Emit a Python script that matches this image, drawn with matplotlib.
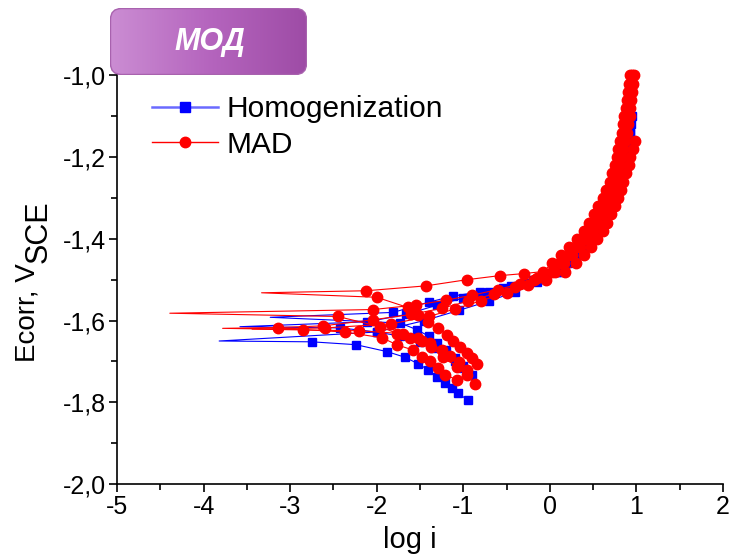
import numpy as np
import matplotlib.pyplot as plt
from matplotlib.lines import Line2D
from matplotlib.patches import FancyBboxPatch
from matplotlib.colors import LinearSegmentedColormap

plt.rcParams['font.family'] = ['Liberation Sans', 'DejaVu Sans']

# shared potential grid for the dense anodic part (V)
E_DENSE = [-1.48, -1.46, -1.44, -1.42, -1.40, -1.38, -1.36, -1.34, -1.32, -1.30,
           -1.28, -1.26, -1.24, -1.22, -1.20, -1.18, -1.16, -1.14, -1.12, -1.10,
           -1.08, -1.06, -1.04, -1.02, -1.00]

# ---- Homogenization (blue squares) ----
# each curve: cathodic branch, corrosion tip, anodic branch
h1_cat_x = [-0.95, -1.06, -1.13, -1.21, -1.30, -1.41, -1.52, -1.67, -1.88, -2.24, -2.75]
h1_cat_e = [-1.795, -1.777, -1.765, -1.752, -1.738, -1.720, -1.706, -1.690, -1.676, -1.659, -1.652]
h1_tip = (-3.82, -1.650)
h1_an_x = [-2.00, -1.45, -1.05, -0.70, -0.40, -0.15] + [0.08, 0.19, 0.29, 0.38, 0.46, 0.53, 0.59, 0.64, 0.69, 0.73, 0.77, 0.80, 0.83, 0.85, 0.87, 0.89, 0.905, 0.92]
h1_an_e = [-1.628, -1.600, -1.575, -1.552, -1.530, -1.505] + E_DENSE[:18]

h2_cat_x = [-0.90, -1.00, -1.10, -1.20, -1.35, -1.50, -1.73, -2.00, -2.42]
h2_cat_e = [-1.733, -1.715, -1.700, -1.685, -1.668, -1.652, -1.638, -1.628, -1.618]
h2_tip = (-3.58, -1.615)
h2_an_x = [-2.11, -1.66, -1.30, -1.00, -0.70, -0.45, -0.20] + [0.04, 0.15, 0.25, 0.34, 0.42, 0.49, 0.55, 0.61, 0.66, 0.70, 0.74, 0.77, 0.80, 0.83, 0.85, 0.87, 0.89, 0.91, 0.92, 0.93]
h2_an_e = [-1.603, -1.585, -1.562, -1.545, -1.530, -1.515, -1.500] + E_DENSE[:20]

h3_cat_x = [-1.00, -1.10, -1.20, -1.30, -1.40, -1.54, -1.73]
h3_cat_e = [-1.712, -1.692, -1.672, -1.655, -1.638, -1.622, -1.606]
h3_tip = (-3.23, -1.592)
h3_an_x = [-1.81, -1.40, -1.12, -0.81, -0.54, -0.30, -0.10] + [0.10, 0.21, 0.31, 0.40, 0.48, 0.55, 0.61, 0.66, 0.71, 0.75, 0.78, 0.81, 0.84, 0.86, 0.88, 0.90, 0.92, 0.93, 0.94, 0.95]
h3_an_e = [-1.580, -1.555, -1.540, -1.530, -1.520, -1.508, -1.494] + E_DENSE[:20]

# ---- MAD (red circles) ----
m1_cat_x = [-0.87, -0.96, -1.07, -1.24, -1.37, -1.48, -1.62, -1.76, -1.96, -2.45]
m1_cat_e = [-1.755, -1.733, -1.713, -1.689, -1.664, -1.650, -1.642, -1.632, -1.615, -1.590]
m1_tip = (-4.39, -1.582)
m1_an_x = [-2.04, -1.55, -1.20, -0.90, -0.60, -0.35, -0.15] + [0.02, 0.12, 0.22, 0.31, 0.39, 0.46, 0.52, 0.57, 0.62, 0.66, 0.70, 0.73, 0.76, 0.79, 0.81, 0.83, 0.85, 0.87, 0.88, 0.90, 0.91, 0.92, 0.935, 0.945, 0.95]
m1_an_e = [-1.573, -1.562, -1.550, -1.538, -1.524, -1.510, -1.495] + E_DENSE

m2_cat_x = [-0.84, -0.90, -0.96, -1.04, -1.12, -1.19, -1.29, -1.41, -1.52, -1.64, -2.00]
m2_cat_e = [-1.706, -1.691, -1.679, -1.665, -1.650, -1.635, -1.618, -1.603, -1.586, -1.568, -1.543]
m2_tip = (-3.33, -1.532)
m2_an_x = [-2.12, -1.43, -0.96, -0.58, -0.30] + [-0.08, 0.03, 0.13, 0.22, 0.31, 0.39, 0.45, 0.51, 0.56, 0.61, 0.65, 0.69, 0.72, 0.75, 0.77, 0.79, 0.81, 0.83, 0.85, 0.86, 0.88, 0.89, 0.90, 0.91, 0.93]
m2_an_e = [-1.527, -1.515, -1.500, -1.490, -1.485] + E_DENSE

m3_cat_x = [-1.07, -1.21, -1.29, -1.38, -1.48, -1.58, -1.76, -1.94, -2.37, -2.85]
m3_cat_e = [-1.745, -1.733, -1.716, -1.700, -1.689, -1.672, -1.660, -1.642, -1.628, -1.622]
m3_tip = (-3.78, -1.619)
m3_an_x = [-3.14, -2.62, -2.04, -1.60, -1.25, -0.95, -0.65, -0.40, -0.18] + [0.06, 0.16, 0.26, 0.35, 0.43, 0.50, 0.56, 0.61, 0.65, 0.69, 0.73, 0.76, 0.79, 0.81, 0.83, 0.85, 0.87, 0.89, 0.90, 0.92, 0.93, 0.94, 0.95, 0.96, 0.97]
m3_an_e = [-1.617, -1.613, -1.598, -1.585, -1.570, -1.553, -1.535, -1.518, -1.500] + E_DENSE

m4_cat_x = [-0.96, -1.05, -1.15, -1.25, -1.38, -1.52, -1.70, -2.20]
m4_cat_e = [-1.720, -1.702, -1.686, -1.671, -1.656, -1.642, -1.632, -1.625]
m4_tip = (-3.44, -1.621)
m4_an_x = [-2.60, -1.83, -1.40, -1.10, -0.80, -0.50, -0.25, -0.05] + [0.18, 0.30, 0.40, 0.48, 0.55, 0.61, 0.66, 0.71, 0.75, 0.79, 0.82, 0.85, 0.88, 0.91, 0.93, 0.955, 0.98]
m4_an_e = [-1.618, -1.608, -1.590, -1.572, -1.552, -1.532, -1.514, -1.500] + E_DENSE[:17]

homog = [(h1_cat_x, h1_cat_e, h1_tip, h1_an_x, h1_an_e),
         (h2_cat_x, h2_cat_e, h2_tip, h2_an_x, h2_an_e),
         (h3_cat_x, h3_cat_e, h3_tip, h3_an_x, h3_an_e)]
mad = [(m1_cat_x, m1_cat_e, m1_tip, m1_an_x, m1_an_e),
       (m2_cat_x, m2_cat_e, m2_tip, m2_an_x, m2_an_e),
       (m3_cat_x, m3_cat_e, m3_tip, m3_an_x, m3_an_e),
       (m4_cat_x, m4_cat_e, m4_tip, m4_an_x, m4_an_e)]

BLUE = '#0000ff'
RED = '#ff0000'

fig = plt.figure(figsize=(7.31, 5.55), dpi=100)
ax = fig.add_axes([117/731, 1 - 484/555, 606/731, 429/555])


def draw_curve(curve, color, marker, ms, z):
    cx, ce, tip, ax_, ae = curve
    xs = list(cx) + [tip[0]] + list(ax_)
    es = list(ce) + [tip[1]] + list(ae)
    ax.plot(xs, es, color=color, lw=0.8, zorder=z)
    ax.plot(list(cx) + list(ax_), list(ce) + list(ae), ls='none', marker=marker,
            ms=ms, color=color, mec=color, zorder=z)


for c in homog:
    draw_curve(c, BLUE, 's', 5.5, 2)
for c in mad:
    draw_curve(c, RED, 'o', 7.5, 3)

ax.set_xlim(-5, 2)
ax.set_ylim(-2.0, -0.95)
ax.set_xticks(np.arange(-5, 3, 1))
ax.set_xticks(np.arange(-5, 2.01, 0.5), minor=True)
ax.set_yticks([-2.0, -1.8, -1.6, -1.4, -1.2, -1.0])
ax.set_yticks(np.arange(-2.0, -0.95, 0.1), minor=True)
ax.yaxis.set_major_formatter(plt.FuncFormatter(lambda v, _: f'{v:.1f}'.replace('.', ',')))
ax.xaxis.set_major_formatter(plt.FuncFormatter(lambda v, _: f'{v:.0f}'))
for s in ['top', 'right']:
    ax.spines[s].set_visible(False)
for s in ['left', 'bottom']:
    ax.spines[s].set_linewidth(1.2)
ax.tick_params(which='major', direction='out', length=6, width=1.2, labelsize=18, pad=2)
ax.tick_params(which='minor', direction='out', length=4, width=1.2)
ax.set_xlabel('log i', fontsize=21)
ax.xaxis.set_label_coords(0.483, -0.098)

# y label with lowered "SCE"
fig.text(27.5/731, 1 - 362/555, 'Ecorr, V', rotation=90, ha='center', va='bottom', fontsize=20)
fig.text(39/731, 1 - 263/555, 'SCE', rotation=90, ha='center', va='bottom', fontsize=22)

handles = [Line2D([], [], color='#6a6aff', lw=1.8, marker='s', ms=7, mfc=BLUE, mec=BLUE),
           Line2D([], [], color=RED, lw=1, marker='o', ms=7.5, mfc=RED, mec=RED)]
ax.legend(handles, ['Homogenization', 'MAD'], loc='upper left', bbox_to_anchor=(0.058, 0.906),
          borderaxespad=0, borderpad=0, frameon=False, fontsize=21.5, handlelength=2.2,
          handletextpad=0.3, labelspacing=0.25)

# title badge
bx = fig.add_axes([110/731, 1 - 75/555, 197/731, 67/555])
bx.set_xlim(0, 197)
bx.set_ylim(0, 67)
bx.axis('off')
cmap = LinearSegmentedColormap.from_list('badge', ['#cb8dd3', '#b565be', '#9e4ca6'])
grad = np.tile(np.linspace(0, 1, 256), (2, 1))
badge = FancyBboxPatch((0.5, 0.5), 196, 66, boxstyle='round,pad=0,rounding_size=11',
                       fc='none', ec='#a862ae', lw=1, transform=bx.transData)
im = bx.imshow(grad, cmap=cmap, extent=[0, 197, 0, 67], aspect='auto')
im.set_clip_path(badge)
bx.add_patch(badge)
bx.text(100, 33, 'МОД', color='white', fontsize=22, fontweight='bold', fontstyle='italic',
        ha='center', va='center')

fig.savefig('out.png', dpi=100)
